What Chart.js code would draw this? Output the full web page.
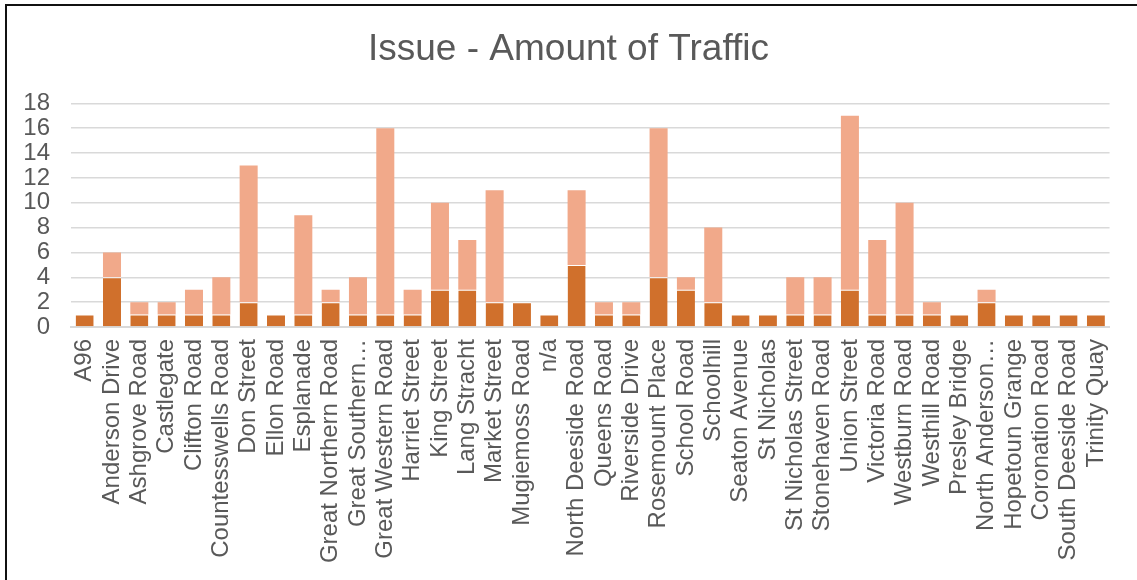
<!DOCTYPE html>
<html>
<head>
<meta charset="utf-8">
<script src="https://cdn.jsdelivr.net/npm/chart.js@4"></script>
<style>
  html, body { margin: 0; padding: 0; background: #fff; }
  #wrap { position: relative; width: 1137px; height: 580px; }
  #frame {
    position: absolute; left: 5px; top: 4px; right: 0; bottom: 0;
    border-left: 2px solid #111; border-top: 2px solid #111;
    pointer-events: none;
  }
</style>
</head>
<body>
<div id="wrap">
  <canvas id="trafficChart" width="1137" height="580"></canvas>
  <div id="frame"></div>
</div>
<script>
// streets, as labelled on the axis
const streets = [
  'A96', 'Anderson Drive', 'Ashgrove Road', 'Castlegate', 'Clifton Road',
  'Countesswells Road', 'Don Street', 'Ellon Road', 'Esplanade', 'Great Northern Road',
  'Great Southern…', 'Great Western Road', 'Harriet Street', 'King Street', 'Lang Stracht',
  'Market Street', 'Mugiemoss Road', 'n/a', 'North Deeside Road', 'Queens Road',
  'Riverside Drive', 'Rosemount Place', 'School Road', 'Schoolhill', 'Seaton Avenue',
  'St Nicholas', 'St Nicholas Street', 'Stonehaven Road', 'Union Street', 'Victoria Road',
  'Westburn Road', 'Westhill Road', 'Presley Bridge', 'North Anderson…', 'Hopetoun Grange',
  'Coronation Road', 'South Deeside Road', 'Trinity Quay'
];

// lower (dark) part of each bar
const darkPart = [
  1, 4, 1, 1, 1, 1, 2, 1, 1, 2,
  1, 1, 1, 3, 3, 2, 2, 1, 5, 1,
  1, 4, 3, 2, 1, 1, 1, 1, 3, 1,
  1, 1, 1, 2, 1, 1, 1, 1
];

// upper (light) part of each bar
const lightPart = [
  0, 2, 1, 1, 2, 3, 11, 0, 8, 1,
  3, 15, 2, 7, 4, 9, 0, 0, 6, 1,
  1, 12, 1, 6, 0, 0, 3, 3, 14, 6,
  9, 1, 0, 1, 0, 0, 0, 0
];

const yMax = 18;
const yStep = 2;

const grey = '#595959';
const fontFamily = '"Liberation Sans", Arial, sans-serif';

const ctx = document.getElementById('trafficChart').getContext('2d');

new Chart(ctx, {
    type: 'bar',
    data: {
        labels: streets,
        datasets: [{
            label: 'Series 1',
            data: darkPart,
            backgroundColor: '#D0702C',
            borderColor: '#ffffff',
            borderWidth: { top: 1, left: 0, right: 0, bottom: 0 },
            borderSkipped: false,
            barPercentage: 0.66,
            categoryPercentage: 1
        }, {
            label: 'Series 2',
            data: lightPart,
            backgroundColor: '#F1A98A',
            borderWidth: 0,
            barPercentage: 0.66,
            categoryPercentage: 1
        }]
    },
    options: {
        responsive: false,
        animation: false,
        layout: { padding: 0 },
        scales: {
            x: {
                stacked: true,
                grid: { display: false, drawTicks: false },
                border: { display: true, color: '#D9D9D9', width: 2 },
                ticks: {
                    autoSkip: false,
                    minRotation: 90,
                    maxRotation: 90,
                    padding: 12,
                    color: grey,
                    font: { family: fontFamily, size: 24 }
                },
                afterFit: function (scale) { scale.height = 253; }
            },
            y: {
                stacked: true,
                min: 0,
                max: yMax,
                grid: { color: '#D9D9D9', lineWidth: 1.5, drawTicks: false },
                border: { display: false },
                ticks: {
                    stepSize: yStep,
                    autoSkip: false,
                    padding: 21,
                    color: grey,
                    font: { family: fontFamily, size: 24 }
                },
                afterFit: function (scale) { scale.width = 71; }
            },
            // empty right-hand margin so the title stays centred on the whole frame
            yRight: {
                position: 'right',
                min: 0,
                max: yMax,
                grid: { display: false, drawTicks: false },
                border: { display: false },
                ticks: { display: false },
                afterFit: function (scale) { scale.width = 24; }
            }
        },
        plugins: {
            legend: { display: false },
            tooltip: { enabled: false },
            title: {
                display: true,
                text: 'Issue - Amount of Traffic',
                color: grey,
                font: { family: fontFamily, size: 37, weight: 'normal', lineHeight: 1.2 },
                padding: { top: 28, bottom: 31 }
            }
        }
    }
});
</script>
</body>
</html>
